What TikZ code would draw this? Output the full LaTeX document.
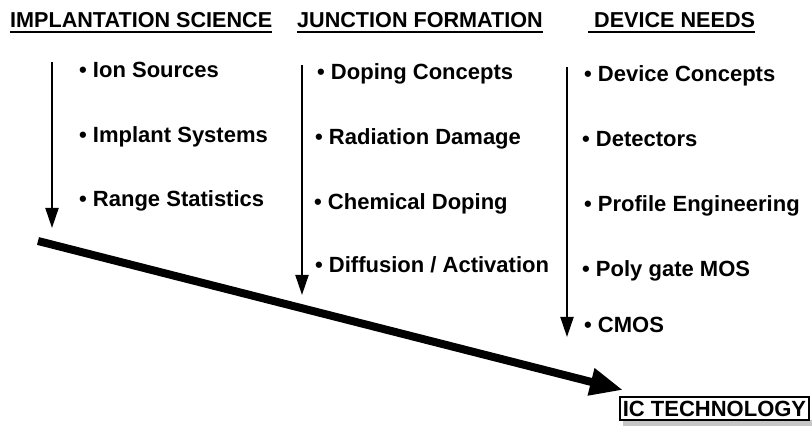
\documentclass[tikz,border=0pt]{standalone}
\usepackage{fontspec}
\setmainfont{Liberation Sans}
\usetikzlibrary{arrows.meta}

\begin{document}
\begin{tikzpicture}[x=1pt, y=-1pt,
	head style/.style={anchor=base west, inner sep=0, font=\fontsize{21.6}{21.6}\selectfont\bfseries},
	item style/.style={anchor=base west, inner sep=0, font=\fontsize{22}{22}\selectfont\bfseries},
	flow/.style={line width=2pt, -{Triangle[width=13pt,length=20pt]}}]
	\useasboundingbox (0,0) rectangle (812,435);
	\node[head style] (sci) at (10,28) {IMPLANTATION SCIENCE};
	\node[head style] (jun) at (297,28) {JUNCTION FORMATION};
	\node[head style] (dev) at (594,28) {DEVICE NEEDS};
	\draw[line width=1.8pt] (10,32) -- (sci.base east |- 0,32);
	\draw[line width=1.8pt] (297,32) -- (jun.base east |- 0,32);
	\draw[line width=1.8pt] (588,32) -- (dev.base east |- 0,32);
	\coordinate (a1) at (52,62);
	\coordinate (b1) at (52,228);
	\coordinate (a2) at (302,65);
	\coordinate (b2) at (302,295);
	\coordinate (a3) at (567,67);
	\coordinate (b3) at (567,337);
	\draw[flow] (a1) -- (b1);
	\draw[flow] (a2) -- (b2);
	\draw[flow] (a3) -- (b3);
	\node[item style] (ion) at (79,78) {\textbullet\ Ion Sources};
	\node[item style] (sys) at (79,143) {\textbullet\ Implant Systems};
	\node[item style] (rng) at (79,207) {\textbullet\ Range Statistics};
	\node[item style] (dop) at (317,80) {\textbullet\ Doping Concepts};
	\node[item style] (rad) at (315,145) {\textbullet\ Radiation Damage};
	\node[item style] (chm) at (314,210) {\textbullet\ Chemical Doping};
	\node[item style] (dif) at (315,273) {\textbullet\ Diffusion / Activation};
	\node[item style] (con) at (584,82) {\textbullet\ Device Concepts};
	\node[item style] (det) at (582,147) {\textbullet\ Detectors};
	\node[item style] (pro) at (584,212) {\textbullet\ Profile Engineering};
	\node[item style] (pol) at (582,277) {\textbullet\ Poly gate MOS};
	\node[item style] (cmo) at (584,333) {\textbullet\ CMOS};
	\fill[gray!45] (623,420) rectangle (812,426);
	\node[draw, line width=1.5pt, fill=white, minimum width=189pt, minimum height=23pt, inner sep=0,
		font=\fontsize{22}{22}\selectfont\bfseries] (ic) at (714.5,408.5) {IC TECHNOLOGY};
	\coordinate (o) at (38,241);
	\coordinate (t) at (623,390);
	\draw[line width=8pt, -{Triangle[width=26pt,length=33pt]}] (o) -- (t);
\end{tikzpicture}
\end{document}
